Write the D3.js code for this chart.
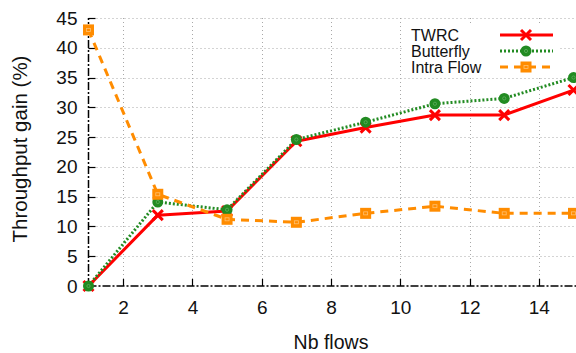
<!DOCTYPE html>
<html><head><meta charset="utf-8">
<script src="https://cdn.jsdelivr.net/npm/d3@7"></script>
<style>body{margin:0;background:#fff}svg{display:block;font-family:"Liberation Sans",Arial,sans-serif}</style>
</head><body>
<script>
const flows = [1, 3, 5, 7, 9, 11, 13, 15];
const twrc = [0, 11.9, 12.6, 24.3, 26.6, 28.7, 28.7, 32.9];
const butterfly = [0, 14.1, 12.8, 24.6, 27.5, 30.6, 31.5, 35.0];
const intraFlow = [43.0, 15.4, 11.2, 10.7, 12.2, 13.4, 12.2, 12.2];
const xTicks = [2, 4, 6, 8, 10, 12, 14];
const yTicks = [0, 5, 10, 15, 20, 25, 30, 35, 40, 45];
const seriesNames = ["TWRC", "Butterfly", "Intra Flow"];

const W = 576, H = 353;
const svg = d3.select("body").append("svg").attr("width", W).attr("height", H);
const x = d3.scaleLinear().domain([1, 15]).range([88.5, 573.5]);
const y = d3.scaleLinear().domain([0, 45]).range([286, 18]);

// grid
const grid = svg.append("g").attr("stroke", "#a8a8a8").attr("stroke-width", 1).attr("stroke-dasharray", "1,3");
grid.selectAll("line.h").data(yTicks.filter(d => d > 0)).join("line")
  .attr("x1", x(1)).attr("x2", W).attr("y1", d => Math.round(y(d)) + 0.5).attr("y2", d => Math.round(y(d)) + 0.5);
grid.selectAll("line.v").data(xTicks).join("line")
  .attr("x1", d => Math.round(x(d)) + 0.5).attr("x2", d => Math.round(x(d)) + 0.5).attr("y1", y(45)).attr("y2", y(0));

// axes
const xAxis = d3.axisBottom(x).tickValues(xTicks).tickSize(0).tickPadding(15).tickFormat(d3.format("d"));
const yAxis = d3.axisLeft(y).tickValues(yTicks).tickSize(0).tickPadding(11).tickFormat(d3.format("d"));
const gx = svg.append("g").attr("transform", `translate(0,${y(0)})`).call(xAxis);
const gy = svg.append("g").attr("transform", `translate(${x(1)},0)`).call(yAxis);
[gx, gy].forEach(g => {
  g.select(".domain").remove();
  g.selectAll("text").attr("font-size", 19).attr("fill", "#111").attr("font-family", "Liberation Sans, Arial, sans-serif");
});
gx.selectAll("text").attr("dy", "0.71em");
// inward ticks
svg.append("g").selectAll("line").data(xTicks).join("line")
  .attr("x1", d => Math.round(x(d)) + 0.5).attr("x2", d => Math.round(x(d)) + 0.5)
  .attr("y1", y(0)).attr("y2", y(0) - 7).attr("stroke", "#000").attr("stroke-width", 1.2);
svg.append("g").selectAll("line").data(yTicks.filter(d => d > 0)).join("line")
  .attr("x1", x(1)).attr("x2", x(1) + 7)
  .attr("y1", d => Math.round(y(d)) + 0.5).attr("y2", d => Math.round(y(d)) + 0.5).attr("stroke", "#000").attr("stroke-width", 1.2);
// dash-dot border lines
svg.append("line").attr("x1", x(1)).attr("x2", W).attr("y1", y(0)).attr("y2", y(0))
  .attr("stroke", "#000").attr("stroke-width", 1.5).attr("stroke-dasharray", "8,2,2,2");
svg.append("line").attr("x1", x(1)).attr("x2", x(1)).attr("y1", y(0)).attr("y2", y(45))
  .attr("stroke", "#000").attr("stroke-width", 1.5).attr("stroke-dasharray", "8,2,2,2");

// titles
svg.append("text").attr("x", 331).attr("y", 349).attr("text-anchor", "middle")
  .attr("font-size", 19.5).attr("fill", "#111").text("Nb flows");
svg.append("text").attr("transform", "translate(27,149) rotate(-90)").attr("text-anchor", "middle")
  .attr("font-size", 20.5).attr("fill", "#111").text("Throughput gain (%)");

// legend background
const lg = svg.append("g");
lg.append("rect").attr("x", 403).attr("y", 25).attr("width", 157).attr("height", 51).attr("fill", "#fff");

const styles = [
  {color: "#ff0000", dash: null, width: 3, marker: "x"},
  {color: "#228b22", dash: "2,2", width: 3, marker: "circle"},
  {color: "#ff8c00", dash: "8,6", width: 3, marker: "square"}
];
const data = [twrc, butterfly, intraFlow];

function drawMarker(g, type, cx, cy, color) {
  if (type === "x") {
    const s = 5;
    g.append("path").attr("d", `M${cx - s},${cy - s}L${cx + s},${cy + s}M${cx - s},${cy + s}L${cx + s},${cy - s}`)
      .attr("stroke", color).attr("stroke-width", 3).attr("fill", "none");
  } else if (type === "circle") {
    g.append("circle").attr("cx", cx).attr("cy", cy).attr("r", 5.5).attr("fill", color);
    g.append("circle").attr("cx", cx).attr("cy", cy).attr("r", 1.6).attr("fill", "none").attr("stroke", "#5fae5f").attr("stroke-width", 0.8);
  } else {
    g.append("rect").attr("x", cx - 5.5).attr("y", cy - 5.5).attr("width", 11).attr("height", 11).attr("fill", color);
    g.append("rect").attr("x", cx - 2).attr("y", cy - 1.5).attr("width", 4).attr("height", 3).attr("fill", "none").attr("stroke", "#ffc070").attr("stroke-width", 0.8);
  }
}

const line = d3.line().x(d => x(d[0])).y(d => y(d[1]));
const plotG = svg.append("g");
data.forEach((vals, i) => {
  const st = styles[i];
  const pts = flows.map((f, j) => [f, vals[j]]);
  plotG.append("path").attr("d", line(pts)).attr("fill", "none").attr("stroke", st.color)
    .attr("stroke-width", st.width).attr("stroke-dasharray", st.dash).attr("stroke-linejoin", "round");
});
data.forEach((vals, i) => {
  const st = styles[i];
  flows.forEach((f, j) => drawMarker(plotG, st.marker, x(f), y(vals[j]), st.color));
});

// legend entries
seriesNames.forEach((name, i) => {
  const st = styles[i];
  const cy = 35 + i * 16;
  lg.append("text").attr("x", 411).attr("y", cy + 5.5).attr("font-size", 16).attr("fill", "#111").text(name);
  lg.append("line").attr("x1", 500).attr("x2", 553).attr("y1", cy).attr("y2", cy)
    .attr("stroke", st.color).attr("stroke-width", st.width).attr("stroke-dasharray", st.dash);
  drawMarker(lg, st.marker, 526, cy, st.color);
});
</script>
</body></html>
